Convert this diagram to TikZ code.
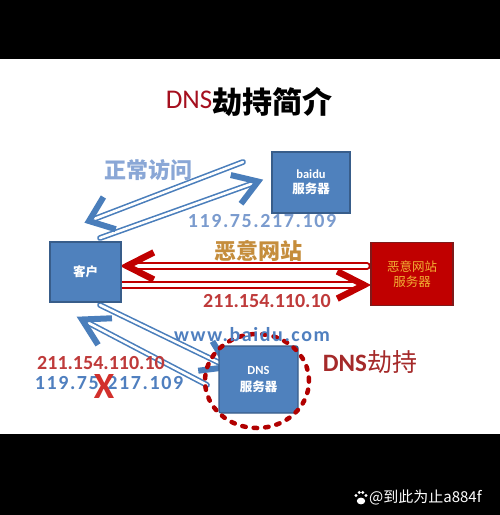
\documentclass[tikz,border=0pt]{standalone}
\usepackage{fontspec}
\setmainfont{Carlito}
\newfontfamily\cjk{Noto Sans CJK SC}
\usetikzlibrary{calc}
\definecolor{boxblue}{HTML}{4F81BD}
\definecolor{boxborder}{HTML}{385D8A}
\definecolor{arrblue}{HTML}{4A7EBB}
\definecolor{arrred}{HTML}{C00000}
\definecolor{redbox}{HTML}{C00000}
\definecolor{redborder}{HTML}{7F1A1A}
\definecolor{amber}{HTML}{F2B134}
\definecolor{lightblue}{HTML}{8AA7D6}
\definecolor{numblue}{HTML}{7A9BCE}
\definecolor{midblue}{HTML}{4F7FBF}
\definecolor{numred}{HTML}{BF3A3A}
\definecolor{hijack}{HTML}{A52A2A}
\definecolor{gold}{HTML}{C58D3C}
\definecolor{titlered}{HTML}{A50F1E}
\definecolor{xred}{HTML}{D2302C}
\newcommand\mkhead[5]{\draw[#1] ($(#2)!#4!#5:(#3)$) -- (#2) -- ($(#2)!#4!-#5:(#3)$);}
\begin{document}
\begin{tikzpicture}[x=1pt,y=-1pt,
  box/.style={rectangle, draw=boxborder, line width=1.2pt, fill=boxblue, text=white, align=center, inner sep=0pt,
    font=\cjk\bfseries\fontsize{12.5}{15}\selectfont},
  bshaft/.style={draw=arrblue, double=white, line width=1.6pt, double distance=2.6pt, line cap=round},
  bhead/.style={draw=arrblue, line width=6pt, line cap=butt, line join=miter},
  rshaft/.style={draw=arrred, double=white, line width=2pt, double distance=3.4pt, line cap=round},
  rhead/.style={draw=arrred, line width=6.5pt, line cap=butt, line join=miter},
  bnum/.style={font=\bfseries\fontsize{20}{22}\selectfont\addfontfeature{LetterSpace=8}},
  rnum/.style={font=\bfseries\fontsize{20}{22}\selectfont, text=numred}]
\useasboundingbox (0,0) rectangle (500,515);
\fill[white] (0,0) rectangle (500,515);
\fill[black] (0,0) rectangle (500,59);
\fill[black] (0,434) rectangle (500,515);

% arrow end points
\coordinate (s1) at (243,162); \coordinate (t1) at (89,221);
\coordinate (s2) at (100,238); \coordinate (t2) at (258,181.5);
\coordinate (s3) at (367,266); \coordinate (t3) at (127,266);
\coordinate (s4) at (120,285); \coordinate (t4) at (364,285);
\coordinate (s5) at (100,305); \coordinate (t5) at (228,367);
\coordinate (s6) at (207,385); \coordinate (t6) at (82,319.5);

% shafts
\draw[bshaft] (s1) -- ($(t1)!3pt!(s1)$);
\draw[bshaft] (s2) -- ($(t2)!3pt!(s2)$);
\draw[rshaft] (s3) -- ($(t3)!3pt!(s3)$);
\draw[rshaft] (s4) -- ($(t4)!3pt!(s4)$);
\draw[bshaft] (s5) -- ($(t5)!3pt!(s5)$);
\draw[bshaft] (s6) -- ($(t6)!3pt!(s6)$);
% heads
\mkhead{bhead}{t1}{s1}{28pt}{38}
\mkhead{bhead}{t2}{s2}{28pt}{33}
\mkhead{rhead}{t3}{s3}{30pt}{27}
\mkhead{rhead}{t4}{s4}{30pt}{27}
\mkhead{bhead}{t5}{s5}{30pt}{33}
\mkhead{bhead}{t6}{s6}{30pt}{30}

% boxes
\node[box, minimum width=78pt, minimum height=61pt] (baidu) at (311,182.5)
  {{\fontspec{Carlito}\bfseries baidu}\\服务器};
\node[box, minimum width=71pt, minimum height=60pt] (client) at (85.5,272) {客户};
\node[box, fill=redbox, draw=redborder, text=amber, minimum width=82pt, minimum height=63pt,
  font=\cjk\fontsize{12.5}{15}\selectfont] (evil) at (412,274)
  {恶意网站\\服务器};
\node[box, rounded corners=2pt, minimum width=79pt, minimum height=67pt] (dns) at (258.5,379.5)
  {{\fontspec{Carlito}\bfseries DNS}\\[2pt]服务器};
\draw[arrred!92!black, line width=4.5pt, line cap=round, dash pattern=on 3.5pt off 8pt]
  (257,381) ellipse [x radius=52pt, y radius=47pt];

% title
\node[anchor=base] (title) at (249,108)
  {{\fontsize{27}{30}\selectfont\color{titlered}DNS}\raisebox{-5pt}{\cjk\bfseries\fontsize{30}{32}\selectfont 劫持简介}};

% labels
\node[font=\cjk\bfseries\fontsize{22}{24}\selectfont, text=lightblue] (normal) at (148,170) {正常访问};
\node[bnum, text=numblue] (ipbaidu) at (262,221) {119.75.217.109};
\node[font=\cjk\bfseries\fontsize{22}{24}\selectfont, text=gold] (evillbl) at (258,251) {恶意网站};
\node[rnum] (ipevil) at (267,301) {211.154.110.10};
\node[bnum, text=midblue] (www) at (252,335) {www.baidu.com};
\node[text=hijack] (hj) at (370,362)
  {{\bfseries\fontsize{25}{28}\selectfont DNS}{\cjk\fontsize{25}{28}\selectfont 劫持}};
\node[rnum] (ipevil2) at (101,363) {211.154.110.10};
\node[bnum, text=midblue] (ipbaidu2) at (109,383) {119.75.217.109};
\node[font=\bfseries\fontsize{37}{37}\selectfont, text=xred, inner sep=0pt] (cross) at (104,386) {X};

% watermark
\fill[white] (361,501) ellipse [x radius=4.2pt, y radius=3.4pt];
\fill[white] (356,495.5) circle (1.6pt);
\fill[white] (359.3,492.5) circle (1.6pt);
\fill[white] (362.7,492.5) circle (1.6pt);
\fill[white] (366,495.5) circle (1.6pt);
\node[anchor=west, inner sep=0pt, text=white, font=\cjk\fontsize{15}{17}\selectfont] (wm) at (369,497) {@到此为止a884f};
\end{tikzpicture}
\end{document}
